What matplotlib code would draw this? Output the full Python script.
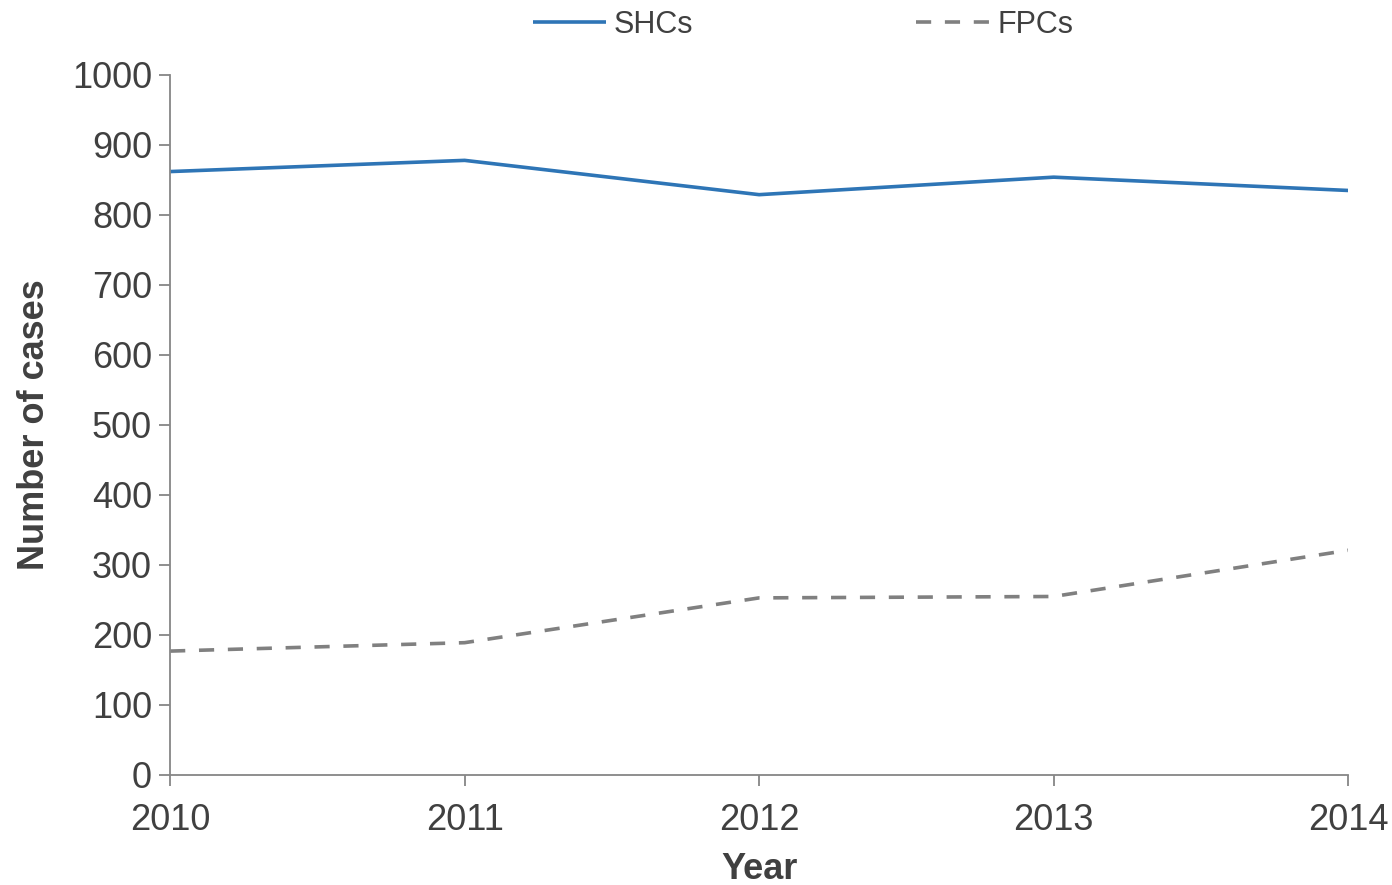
import numpy as np
import matplotlib
matplotlib.use("Agg")
import matplotlib.pyplot as plt

years = [2010, 2011, 2012, 2013, 2014]
shcs = [862, 878, 829, 854, 835]
fpcs = [177, 189, 253, 255, 321]
yticks = list(range(0, 1001, 100))

plt.rcParams['font.family'] = ['Liberation Sans', 'DejaVu Sans']
txt = '#404040'
axc = '#868686'

fig = plt.figure(figsize=(13.92, 8.85), dpi=100)
ax = fig.add_axes([0.1222, 0.1243, 0.8463, 0.791])

ax.plot(years, shcs, color='#2E75B6', lw=2.6, label='SHCs', solid_capstyle='butt')
ax.plot(years, fpcs, color='#808080', lw=2.6, dashes=(4.2, 3.8), label='FPCs')

ax.set_xlim(2010, 2014)
ax.set_ylim(0, 1000)
ax.set_xticks(years)
ax.set_yticks(yticks)

for s in ['top', 'right']:
    ax.spines[s].set_visible(False)
for s in ['left', 'bottom']:
    ax.spines[s].set_color(axc)
    ax.spines[s].set_linewidth(1.3)

ax.tick_params(axis='both', direction='out', length=8, width=1.3, color=axc,
               labelsize=26, labelcolor=txt)
ax.tick_params(axis='x', pad=12)
ax.tick_params(axis='y', pad=5)

ax.set_xlabel('Year', fontsize=26, fontweight='bold', color=txt, labelpad=10)
ax.set_ylabel('Number of cases', fontsize=26, fontweight='bold', color=txt, labelpad=14)

leg = fig.legend(loc='upper center', bbox_to_anchor=(0.577, 1.02), ncol=2,
                 frameon=False, fontsize=22, handlelength=2.4, handletextpad=0.25,
                 columnspacing=7.3)
for t in leg.get_texts():
    t.set_color(txt)

fig.savefig('out.png', dpi=100)
